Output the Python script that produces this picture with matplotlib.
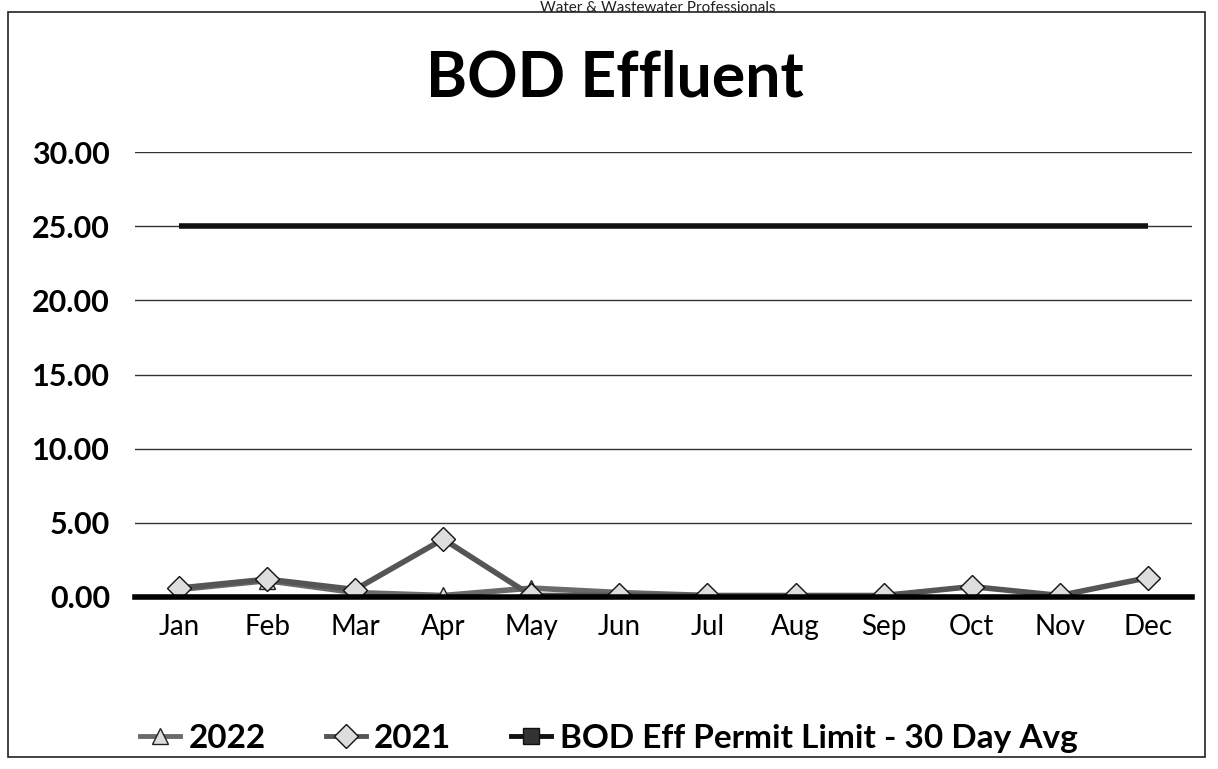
import matplotlib
matplotlib.use("Agg")
import matplotlib.pyplot as plt
from matplotlib.lines import Line2D
from matplotlib.patches import Rectangle

months = ["Jan", "Feb", "Mar", "Apr", "May", "Jun", "Jul", "Aug", "Sep", "Oct", "Nov", "Dec"]
y2022 = [0.5, 1.1, 0.3, 0.1, 0.6, 0.3, 0.1, None, None, None, None, None]
y2021 = [0.6, 1.2, 0.5, 3.9, 0.1, 0.1, 0.1, 0.1, 0.1, 0.7, 0.1, 1.3]
permit = [25.0] * 12
yticks = [0, 5, 10, 15, 20, 25, 30]

plt.rcParams['font.family'] = ['Lato', 'DejaVu Sans']

fig = plt.figure(figsize=(12.18, 7.69), dpi=100)
ax = fig.add_axes([0.1108, 0.2237, 0.8678, 0.5786])

x = list(range(len(months)))
x22 = [i for i, v in zip(x, y2022) if v is not None]
v22 = [v for v in y2022 if v is not None]

ax.plot(x, permit, color='#111111', lw=4, solid_capstyle='butt', zorder=3)
ax.plot(x22, v22, color='#6a6a6a', lw=4, marker='^', markersize=12,
        markerfacecolor='#dddddd', markeredgecolor='#222222', zorder=4)
ax.plot(x, y2021, color='#555555', lw=4, marker='D', markersize=12,
        markerfacecolor='#dddddd', markeredgecolor='#111111', zorder=5)

ax.set_xlim(-0.5, 11.5)
ax.set_ylim(0, 30)
ax.set_yticks(yticks)
ax.set_yticklabels([f"{t:.2f}" for t in yticks], fontsize=22, fontweight='bold')
ax.set_xticks(x)
ax.set_xticklabels(months, fontsize=20)
ax.tick_params(axis='both', length=0)
ax.tick_params(axis='y', pad=18)
ax.tick_params(axis='x', pad=12)
ax.grid(axis='y', color='#333333', lw=1.0, zorder=1)
for s in ['top', 'right', 'left']:
    ax.spines[s].set_visible(False)
ax.spines['bottom'].set_color('#000000')
ax.spines['bottom'].set_linewidth(4)
ax.spines['bottom'].set_zorder(6)

fig.text(0.505, 0.898, "BOD Effluent", ha='center', va='center', fontsize=45, fontweight='bold')
fig.text(0.54, 0.999, "Water & Wastewater Professionals", ha='center', va='top', fontsize=11, color='#222222')

fig.patches.append(Rectangle((8/1218, 12/769), 1197/1218, 745/769, transform=fig.transFigure,
                             fill=False, edgecolor='#222222', lw=1.2))

handles = [
    Line2D([], [], color='#6a6a6a', lw=3.5, marker='^', markersize=12,
           markerfacecolor='#dddddd', markeredgecolor='#222222'),
    Line2D([], [], color='#555555', lw=3.5, marker='D', markersize=12,
           markerfacecolor='#dddddd', markeredgecolor='#111111'),
    Line2D([], [], color='#111111', lw=3.5, marker='s', markersize=12,
           markerfacecolor='#333333', markeredgecolor='#111111'),
]
labels = ["2022", "2021", "BOD Eff Permit Limit - 30 Day Avg"]
fig.legend(handles, labels, loc='center', bbox_to_anchor=(0.5, 0.04), ncol=3, frameon=False,
           prop={'size': 24, 'weight': 'bold'}, handlelength=1.2, columnspacing=1.8, handletextpad=0.25)

fig.savefig("out.png", dpi=100)
